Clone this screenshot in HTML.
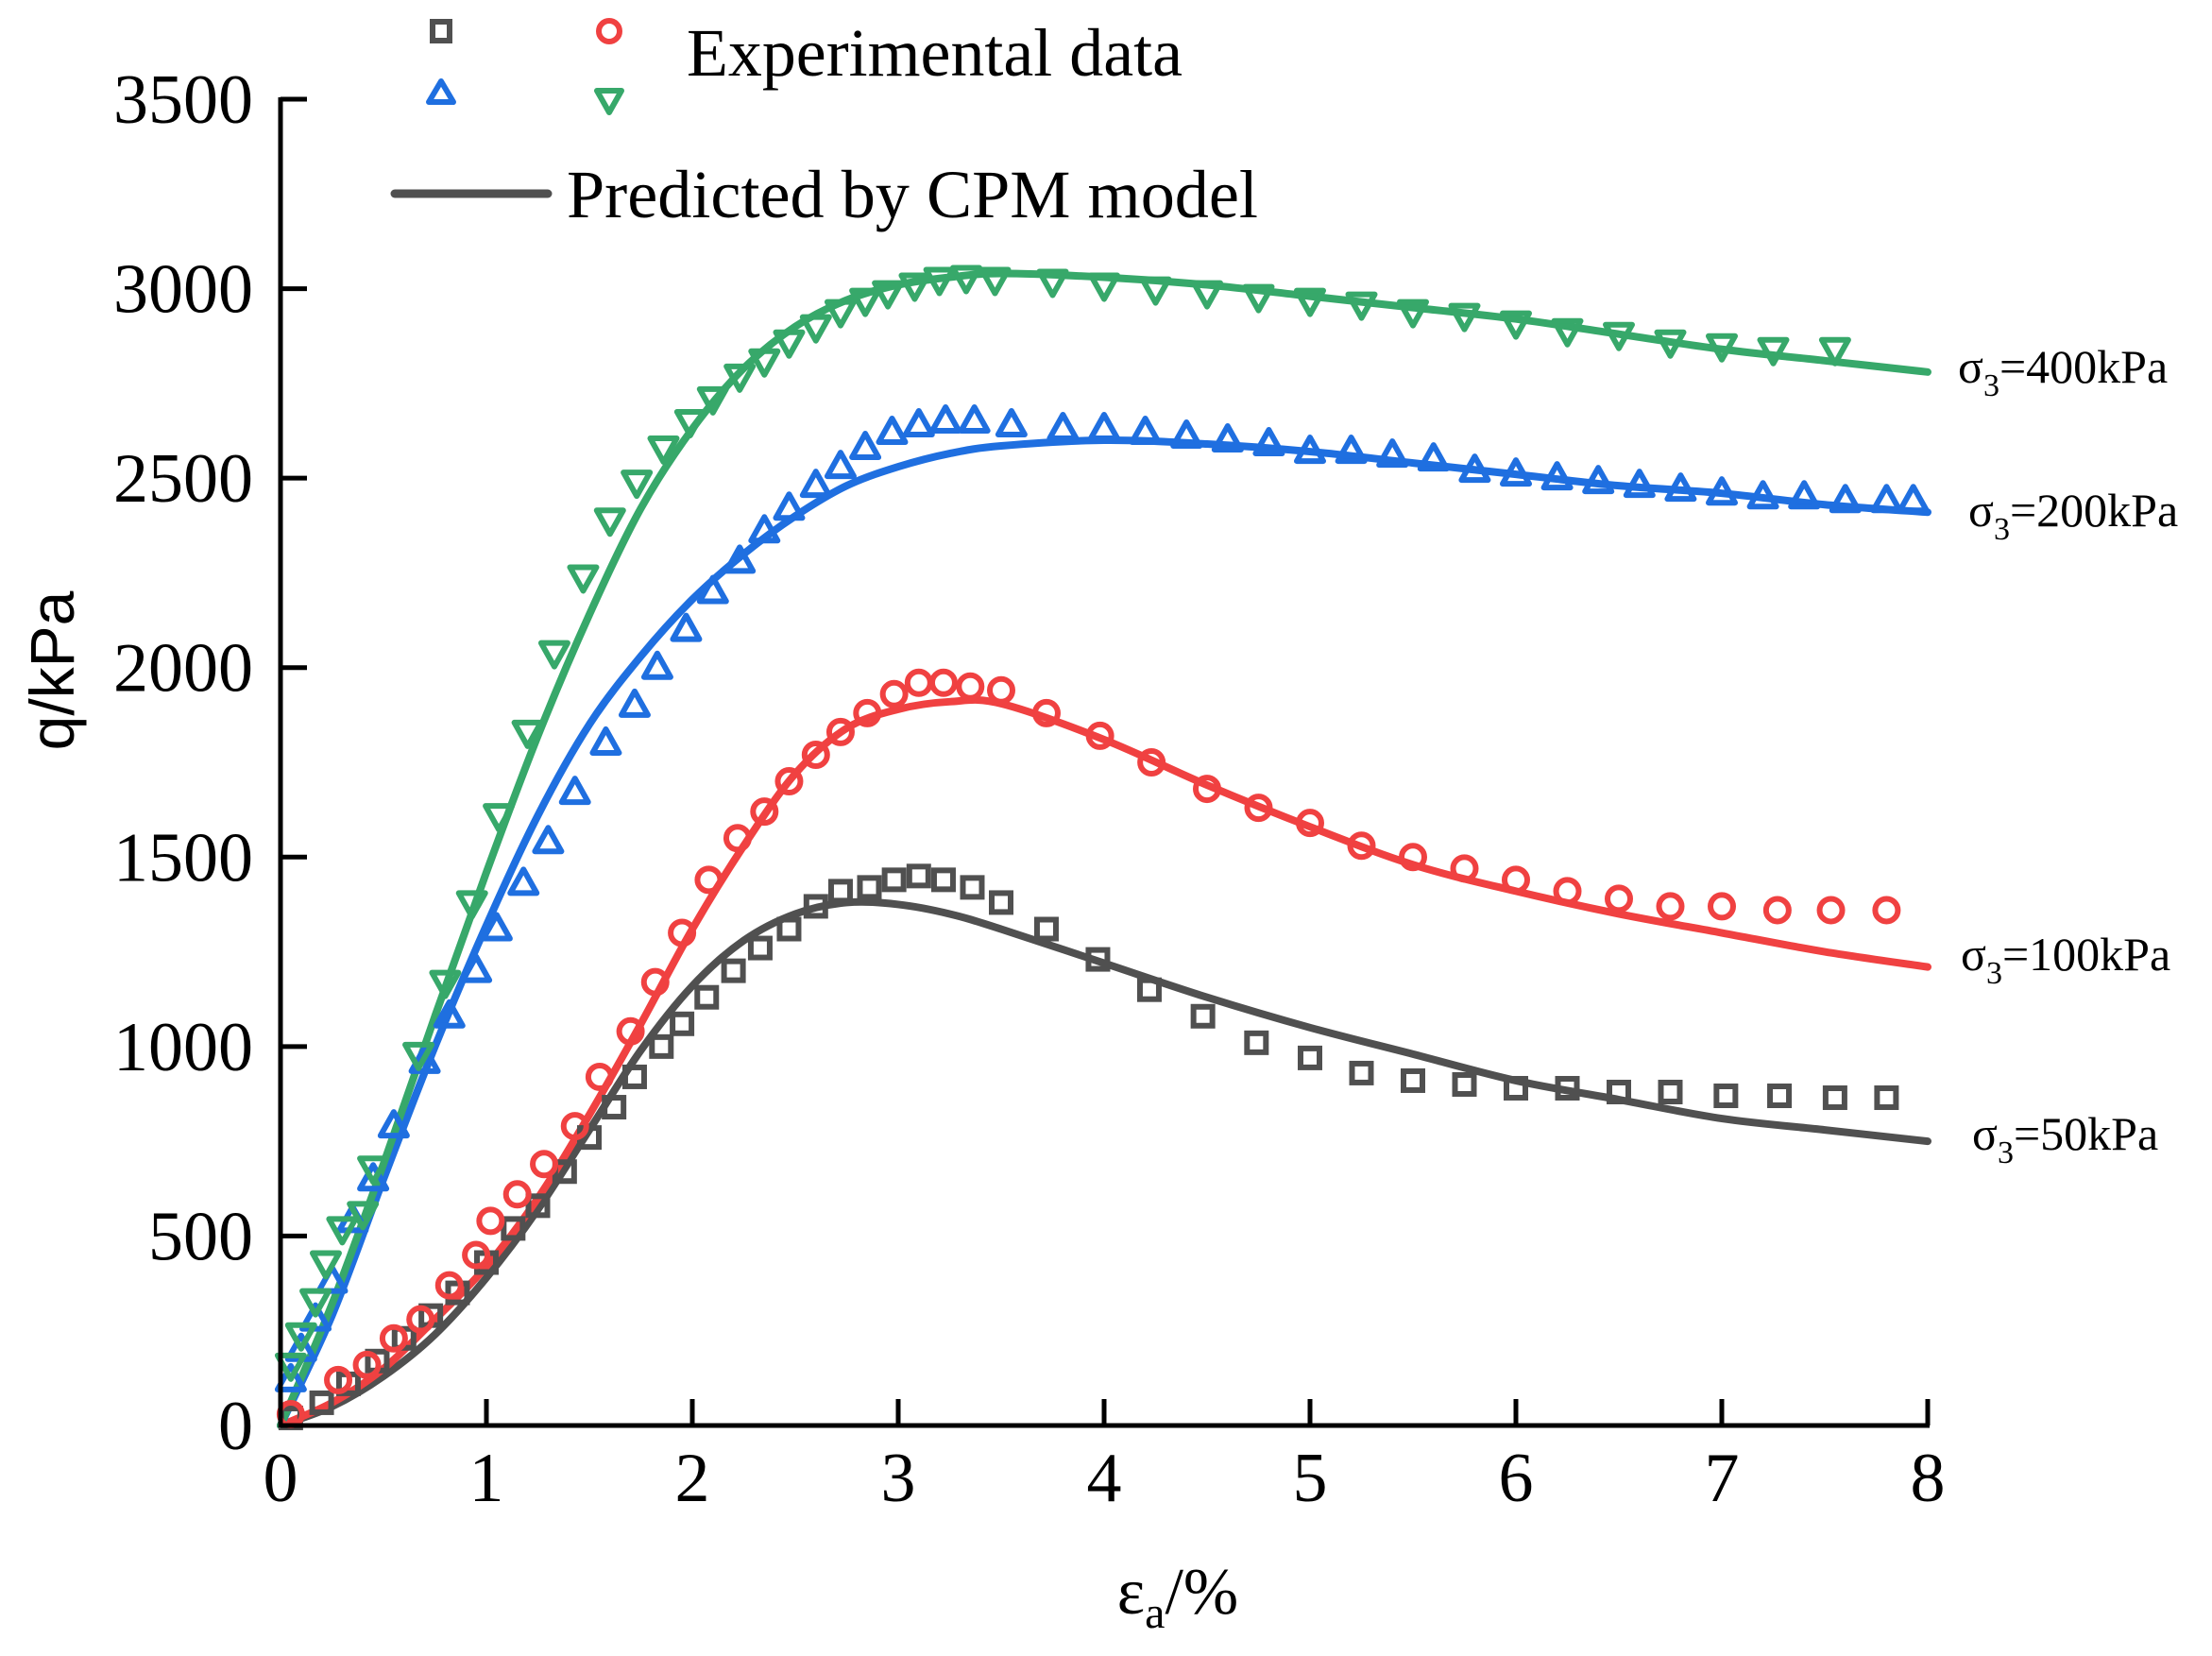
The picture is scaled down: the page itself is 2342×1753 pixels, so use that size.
<!DOCTYPE html>
<html><head><meta charset="utf-8"><style>
html,body{margin:0;padding:0;background:#fff;}
svg{display:block;font-family:"Liberation Serif",serif;}
</style></head><body>
<svg id="chart" width="2342" height="1753" viewBox="0 0 2342 1753" xmlns="http://www.w3.org/2000/svg">
<g id="lines"></g>
<g id="marks"></g>
<g id="axes"></g>
<g>
  <rect x="458" y="23" width="18" height="20" fill="none" stroke="#505050" stroke-width="6"/>
  <circle cx="645" cy="33" r="11" fill="none" stroke="#f04141" stroke-width="6"/>
  <polygon points="467,86 480,108 454,108" fill="none" stroke="#1f6fe0" stroke-width="6" stroke-linejoin="round"/>
  <polygon points="632,96 658,96 645,119" fill="none" stroke="#37a86a" stroke-width="6" stroke-linejoin="round"/>
  <text x="727" y="80" font-size="72" textLength="525" lengthAdjust="spacingAndGlyphs">Experimental data</text>
  <line x1="418" y1="205" x2="580" y2="205" stroke="#505050" stroke-width="9" stroke-linecap="round"/>
  <text x="600" y="230" font-size="72" textLength="732" lengthAdjust="spacingAndGlyphs">Predicted by CPM model</text>
</g>
<g font-size="50">
  <text x="2073" y="405">σ<tspan font-size="34" dy="14">3</tspan><tspan dy="-14">=400kPa</tspan></text>
  <text x="2084" y="557">σ<tspan font-size="34" dy="14">3</tspan><tspan dy="-14">=200kPa</tspan></text>
  <text x="2076" y="1027">σ<tspan font-size="34" dy="14">3</tspan><tspan dy="-14">=100kPa</tspan></text>
  <text x="2088" y="1217">σ<tspan font-size="34" dy="14">3</tspan><tspan dy="-14">=50kPa</tspan></text>
</g>
<text transform="translate(78,710) rotate(-90)" text-anchor="middle" font-size="66" font-family="Liberation Sans, sans-serif">q/kPa</text>
<text x="1247" y="1708" text-anchor="middle" font-size="70">ε<tspan font-size="48" dy="15">a</tspan><tspan dy="-15">/%</tspan></text>
</svg>
<script>
const xTicks=[0,1,2,3,4,5,6,7,8];
const yTicks=[0,500,1000,1500,2000,2500,3000,3500];
const gray="#505050",red="#f04141",blue="#1f6fe0",green="#37a86a";
const squaresX=[0.05,0.2,0.33,0.47,0.6,0.73,0.86,1,1.13,1.25,1.38,1.5,1.62,1.72,1.85,1.95,2.07,2.2,2.33,2.47,2.6,2.72,2.86,2.98,3.1,3.22,3.36,3.5,3.72,3.97,4.22,4.48,4.74,5,5.25,5.5,5.75,6,6.25,6.5,6.75,7.02,7.28,7.55,7.8];
const squaresY=[20,60,110,170,230,290,350,430,520,580,670,760,840,920,1000,1060,1130,1200,1260,1310,1370,1410,1420,1440,1450,1440,1420,1380,1310,1230,1150,1080,1010,970,930,910,900,890,890,880,880,870,870,865,865];
const circlesX=[0.05,0.28,0.42,0.55,0.68,0.82,0.95,1.02,1.15,1.28,1.43,1.55,1.7,1.82,1.95,2.08,2.22,2.35,2.47,2.6,2.72,2.85,2.98,3.1,3.22,3.35,3.5,3.72,3.98,4.23,4.5,4.75,5,5.25,5.5,5.75,6,6.25,6.5,6.75,7,7.27,7.53,7.8];
const circlesY=[30,120,160,230,280,370,450,540,610,690,790,920,1040,1170,1300,1440,1550,1620,1700,1770,1830,1880,1930,1960,1960,1950,1940,1880,1820,1750,1680,1630,1590,1530,1500,1470,1440,1410,1390,1370,1370,1360,1360,1360];
const triUpX=[0.05,0.1,0.17,0.25,0.35,0.45,0.55,0.7,0.82,0.95,1.05,1.18,1.3,1.43,1.58,1.72,1.83,1.97,2.1,2.23,2.35,2.47,2.6,2.72,2.84,2.97,3.1,3.23,3.37,3.55,3.8,4,4.2,4.4,4.6,4.8,5,5.2,5.4,5.6,5.8,6,6.2,6.4,6.6,6.8,7,7.2,7.4,7.6,7.8,7.93];
const triUpY=[120,200,280,380,540,650,790,960,1080,1200,1310,1430,1540,1670,1800,1900,2000,2100,2200,2280,2360,2420,2480,2530,2580,2620,2640,2650,2650,2640,2630,2630,2620,2610,2600,2590,2570,2570,2560,2550,2520,2510,2500,2490,2480,2470,2460,2450,2450,2440,2440,2440];
const triDnX=[0.05,0.1,0.17,0.22,0.3,0.4,0.45,0.67,0.8,0.93,1.06,1.2,1.33,1.47,1.6,1.73,1.86,1.99,2.1,2.23,2.35,2.47,2.6,2.72,2.84,2.95,3.08,3.2,3.33,3.47,3.75,4,4.25,4.5,4.75,5,5.25,5.5,5.75,6,6.25,6.5,6.75,7,7.25,7.55];
const triDnY=[160,240,330,430,520,560,680,980,1170,1380,1610,1830,2040,2240,2390,2490,2580,2650,2710,2770,2810,2860,2900,2940,2970,2990,3010,3025,3030,3025,3020,3010,3000,2990,2980,2970,2960,2940,2930,2910,2890,2880,2860,2850,2840,2840];
const lineX=[0,0.25,0.5,0.75,1,1.25,1.5,1.75,2,2.25,2.5,2.75,3,3.25,3.5,4,4.5,5,5.5,6,6.5,7,7.5,8];
const line50=[0,50,130,240,390,570,780,990,1160,1280,1350,1380,1375,1350,1310,1220,1130,1050,980,910,860,810,780,750];
const line100=[0,60,150,280,420,600,820,1060,1310,1530,1720,1840,1890,1910,1905,1810,1690,1580,1480,1410,1350,1300,1250,1210];
const line200=[0,290,650,1000,1320,1610,1850,2030,2180,2300,2400,2480,2530,2565,2585,2600,2590,2570,2540,2510,2480,2460,2430,2410];
const line400=[0,320,690,1080,1460,1820,2140,2420,2630,2790,2900,2970,3010,3030,3040,3030,3010,2980,2950,2920,2880,2840,2810,2780];

const NS="http://www.w3.org/2000/svg";
const X0=297,X1=2041,Y0=1509,Y1=105;
function sx(v){return X0+(v-0)/(8-0)*(X1-X0);}
function sy(v){return Y0-(v-0)/(3500-0)*(Y0-Y1);}
function mk(tag,attrs,parent){const e=document.createElementNS(NS,tag);for(const k in attrs)e.setAttribute(k,attrs[k]);parent.appendChild(e);return e;}
const lines=document.getElementById('lines'),marks=document.getElementById('marks'),axes=document.getElementById('axes');

function smoothPath(xs,ys){
  const p=xs.map((x,i)=>[sx(x),sy(ys[i])]);
  let d="M"+p[0][0]+","+p[0][1];
  for(let i=0;i<p.length-1;i++){
    const a=p[i-1]||p[i],b=p[i],c=p[i+1],e=p[i+2]||c;
    const c1=[b[0]+(c[0]-a[0])/6,b[1]+(c[1]-a[1])/6],c2=[c[0]-(e[0]-b[0])/6,c[1]-(e[1]-b[1])/6];
    d+=" C"+c1+" "+c2+" "+c;
  }
  return d;
}
[[line50,gray,'model-line-50kpa'],[line100,red,'model-line-100kpa'],[line200,blue,'model-line-200kpa'],[line400,green,'model-line-400kpa']].forEach(s=>{
  const el=mk('path',{d:smoothPath(lineX,s[0]),fill:'none',stroke:s[1],'stroke-width':8,'stroke-linecap':'round'},lines);
  
  
});
squaresX.forEach((x,i)=>{
  const el=mk('rect',{x:sx(x)-10,y:sy(squaresY[i])-10,width:20,height:20,fill:'none',stroke:gray,'stroke-width':6},marks);
  
  
});
circlesX.forEach((x,i)=>{
  const el=mk('circle',{cx:sx(x),cy:sy(circlesY[i]),r:12,fill:'none',stroke:red,'stroke-width':6},marks);
  
  
});
triUpX.forEach((x,i)=>{
  const cx=sx(x),cy=sy(triUpY[i]);
  const el=mk('polygon',{points:`${cx},${cy-15} ${cx+14},${cy+10} ${cx-14},${cy+10}`,fill:'none',stroke:blue,'stroke-width':6,'stroke-linejoin':'round'},marks);
  
  
});
triDnX.forEach((x,i)=>{
  const cx=sx(x),cy=sy(triDnY[i]);
  const el=mk('polygon',{points:`${cx-14},${cy-10} ${cx+14},${cy-10} ${cx},${cy+15}`,fill:'none',stroke:green,'stroke-width':6,'stroke-linejoin':'round'},marks);
  
  
});
let ax=mk('line',{x1:X0,y1:Y0,x2:X1+2,y2:Y0,stroke:'#000','stroke-width':5},axes);


ax=mk('line',{x1:X0,y1:Y0+2,x2:X0,y2:Y1-2,stroke:'#000','stroke-width':5},axes);


xTicks.forEach(t=>{
  const tk=mk('line',{x1:sx(t),y1:Y0,x2:sx(t),y2:Y0-28,stroke:'#000','stroke-width':5},axes);
  
  
  const lb=mk('text',{x:sx(t),y:Y0+80,'text-anchor':'middle','font-size':74},axes);
  lb.textContent=t;
  
  
});
yTicks.forEach(t=>{
  const tk=mk('line',{x1:X0,y1:sy(t),x2:X0+28,y2:sy(t),stroke:'#000','stroke-width':5},axes);
  
  
  const lb=mk('text',{x:268,y:sy(t)+25,'text-anchor':'end','font-size':74},axes);
  lb.textContent=t;
  
  
});
</script>
</body></html>
